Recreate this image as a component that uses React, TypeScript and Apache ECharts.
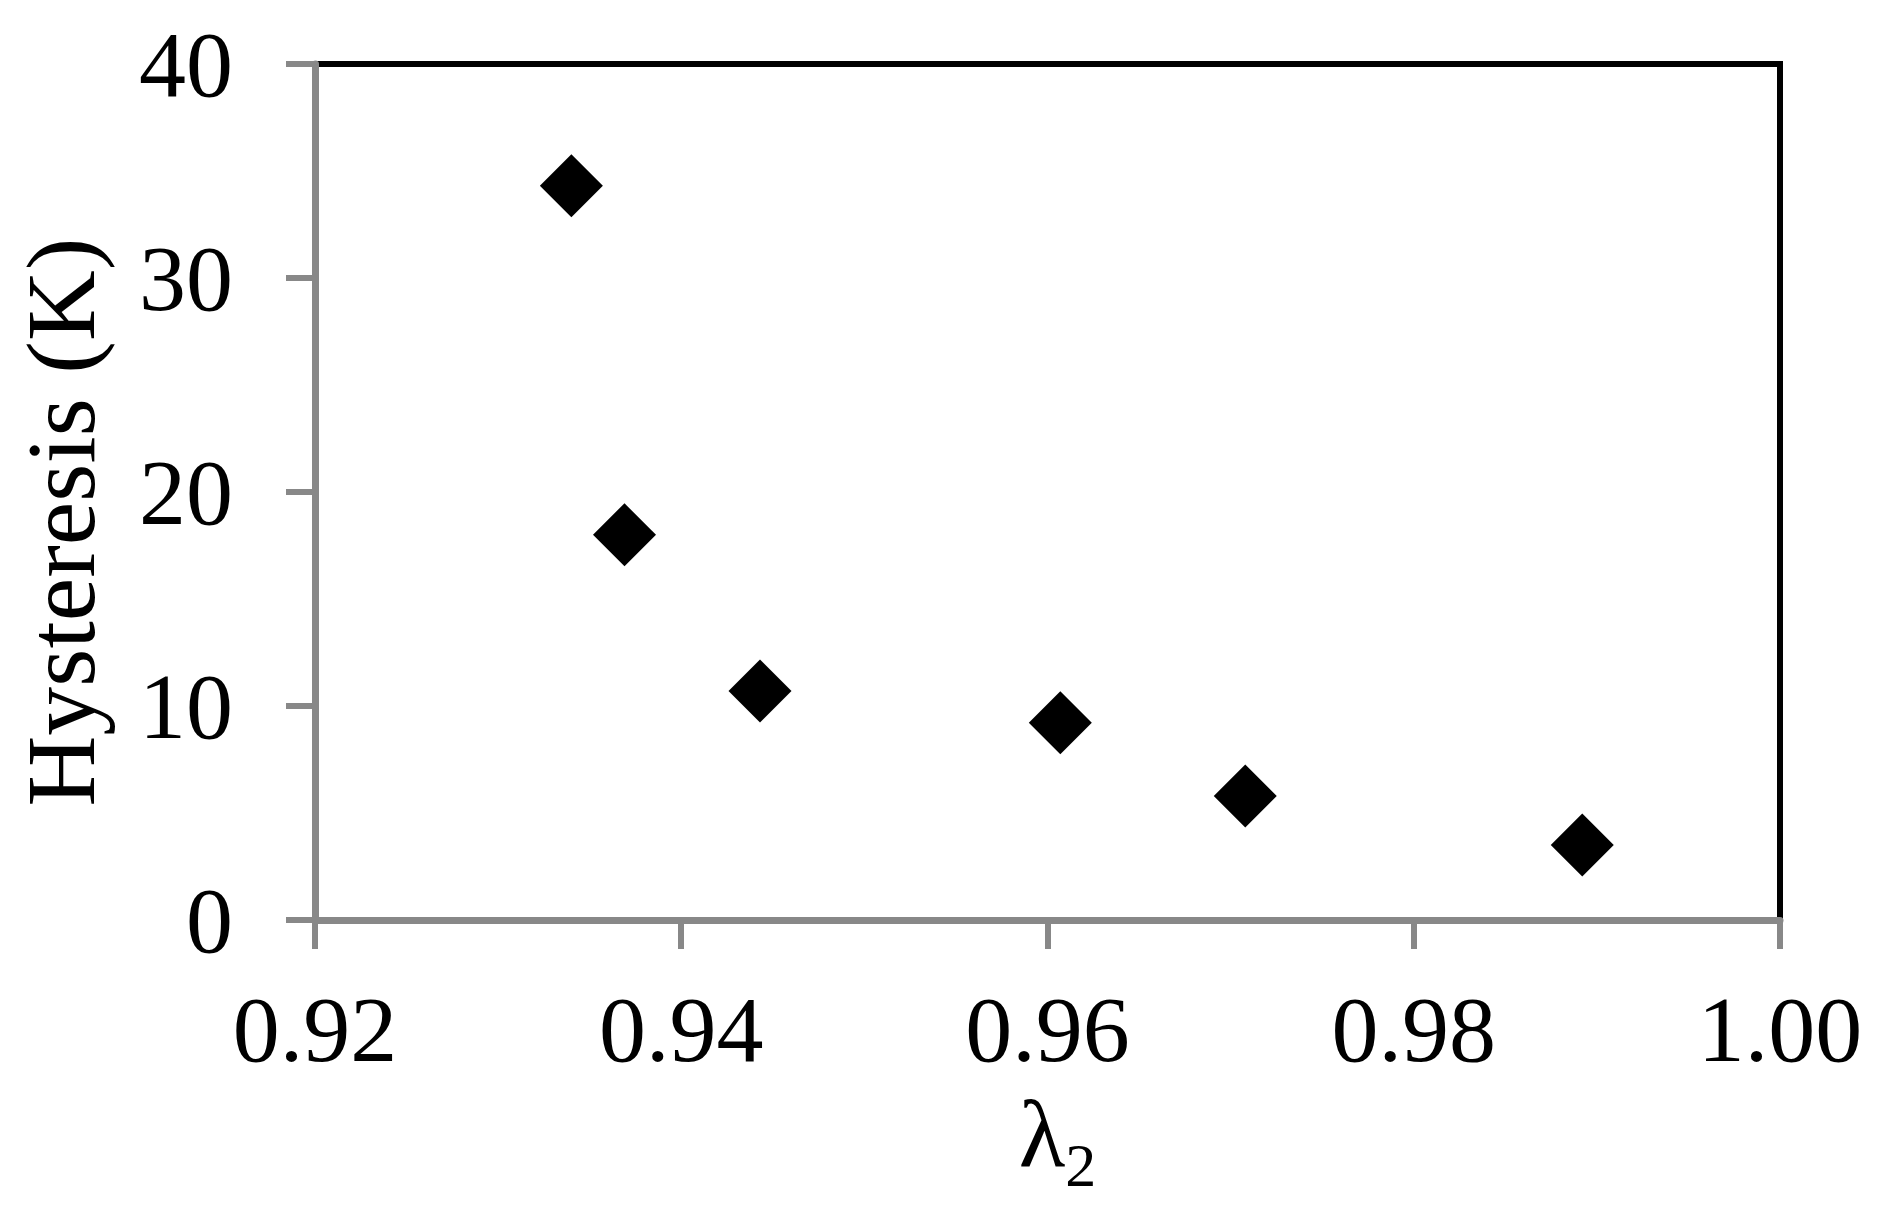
import React, { useEffect, useRef } from "react";
import * as echarts from "echarts";

const lambda2: number[] = [0.934, 0.9369, 0.9443, 0.9607, 0.9708, 0.9892];
const hysteresis: number[] = [34.31, 18.0, 10.7, 9.22, 5.79, 3.5];
const xTicks: number[] = [0.92, 0.94, 0.96, 0.98, 1.0];
const yTicks: number[] = [0, 10, 20, 30, 40];

const FONT = "'Liberation Serif', 'Times New Roman', serif";

export default function App() {
  const ref = useRef<HTMLDivElement>(null);
  useEffect(() => {
    if (!ref.current) return;
    const chart = echarts.init(ref.current, null, { renderer: "svg" });
    chart.setOption({
      animation: false,
      backgroundColor: "#ffffff",
      grid: {
        left: 315,
        right: 108,
        top: 64,
        bottom: 285,
        containLabel: false,
        outerBoundsMode: "none",
        show: true,
        borderColor: "#000000",
        borderWidth: 6,
        backgroundColor: "transparent",
      },
      xAxis: {
        type: "value",
        min: xTicks[0],
        max: xTicks[xTicks.length - 1],
        interval: 0.02,
        name: "{l|λ}{s|2}",
        nameLocation: "middle",
        nameGap: 150,
        nameTextStyle: {
          padding: [0, 0, 0, 20],
          rich: {
            l: { fontFamily: FONT, fontSize: 96, color: "#000" },
            s: { fontFamily: FONT, fontSize: 62, color: "#000", verticalAlign: "bottom", padding: [64, 0, 0, 0] },
          },
        },
        axisLine: { show: true, onZero: false, lineStyle: { color: "#888888", width: 7 } },
        axisTick: { show: true, inside: false, length: 29, lineStyle: { color: "#888888", width: 6 } },
        splitLine: { show: false },
        axisLabel: {
          margin: 62,
          fontFamily: FONT,
          fontSize: 94,
          color: "#000",
          formatter: (v: number) => v.toFixed(2),
        },
      },
      yAxis: {
        type: "value",
        min: yTicks[0],
        max: yTicks[yTicks.length - 1],
        interval: 10,
        name: "Hysteresis (K)",
        nameLocation: "middle",
        nameGap: 205,
        nameRotate: 90,
        nameTextStyle: { fontFamily: FONT, fontSize: 98, color: "#000", padding: [0, 60, 0, 0] },
        axisLine: { show: true, onZero: false, lineStyle: { color: "#888888", width: 7 } },
        axisTick: { show: true, inside: false, length: 29, lineStyle: { color: "#888888", width: 6 } },
        splitLine: { show: false },
        axisLabel: {
          margin: 82,
          fontFamily: FONT,
          fontSize: 94,
          color: "#000",
        },
      },
      series: [
        {
          type: "scatter",
          data: lambda2.map((x, i) => [x, hysteresis[i]]),
          symbol: "diamond",
          symbolSize: 63,
          itemStyle: { color: "#000000", opacity: 1 },
        },
      ],
    });
    return () => chart.dispose();
  }, []);
  return (
    <div
      ref={ref}
      style={{ position: "fixed", left: 0, top: 0, width: 1888, height: 1205, background: "#fff" }}
    />
  );
}
